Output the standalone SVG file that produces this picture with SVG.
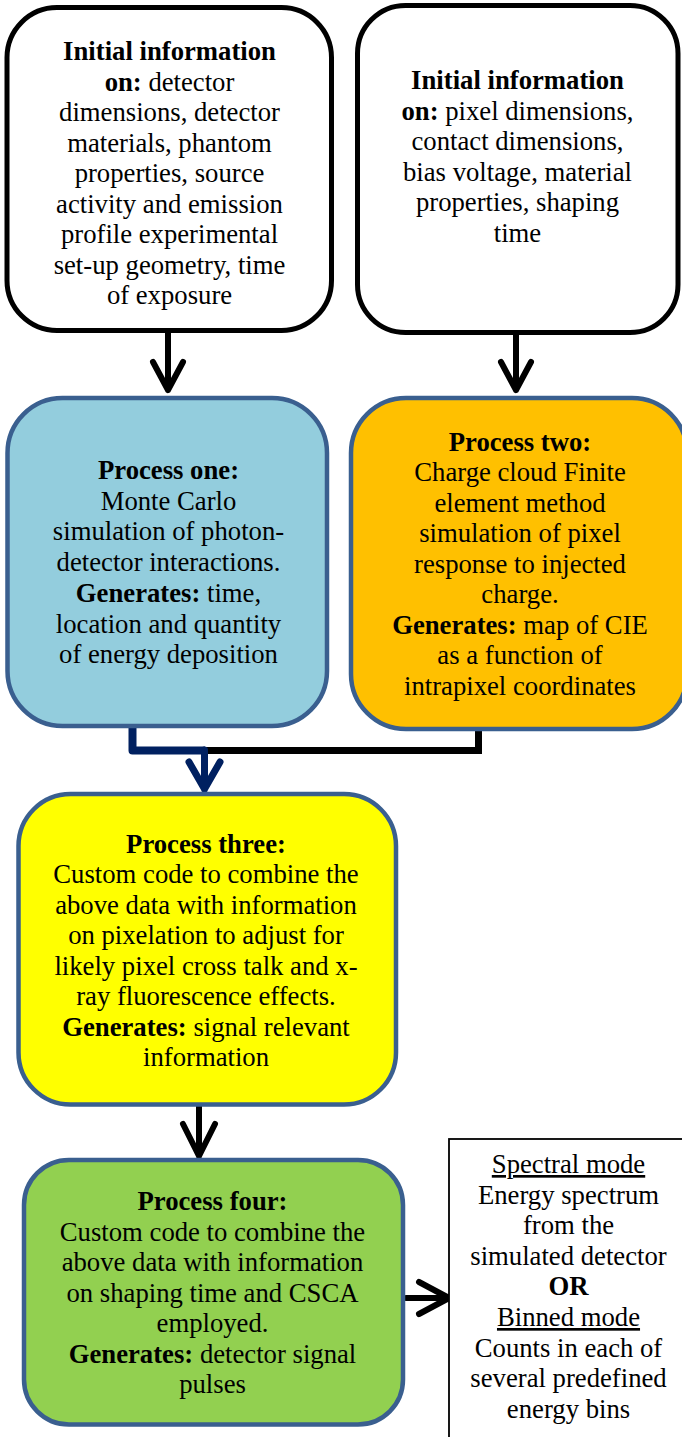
<svg xmlns="http://www.w3.org/2000/svg" width="682" height="1437" viewBox="0 0 682 1437">
<style>
text{font-family:'Liberation Serif','Times New Roman',Times,'DejaVu Serif',serif;font-size:26.7px;fill:#000;text-anchor:middle}
.b{font-weight:bold}
.u{text-decoration:underline}
.blk{fill:#fff;stroke:#000;stroke-width:5}
.pb{stroke:#3A5F8F;stroke-width:4.5}
.ln{fill:none;stroke:#000;stroke-width:6;stroke-linecap:round;stroke-linejoin:round}
.nv{fill:none;stroke:#002060;stroke-width:7;stroke-linecap:round;stroke-linejoin:round}
</style>
<rect width="682" height="1437" fill="#fff"/>
<g id="connectors">
<path class="ln" d="M168,333 V390 M153,362 L168,390 L183,362"/>
<path class="ln" d="M516,335 V390 M501,362 L516,390 L531,362"/>
<path d="M205,750.5 H478.5 V729" fill="none" stroke="#000" stroke-width="7" stroke-linejoin="miter"/>
<path d="M132.5,726 V750.5 H205" fill="none" stroke="#002060" stroke-width="8" stroke-linejoin="round"/>
<path class="nv" d="M204.5,750 V789 M189,762 L204.5,789 L220,762"/>
<path class="ln" d="M199,1105 V1156 M183,1124 L199,1156 L215,1124"/>
<path class="ln" d="M406,1298 H449 M419,1282 L449,1298 L419,1314"/>
</g>
<g id="init1" font-family="Liberation Serif, serif">
<rect class="blk" x="7" y="7.5" width="324.5" height="323" rx="50"/>
<text x="169.5" y="60" class="b">Initial information</text>
<text x="169.5" y="90.5"><tspan class="b">on:</tspan> detector</text>
<text x="169.5" y="121">dimensions, detector</text>
<text x="169.5" y="151.5">materials, phantom</text>
<text x="169.5" y="182">properties, source</text>
<text x="169.5" y="212.5">activity and emission</text>
<text x="169.5" y="243">profile experimental</text>
<text x="169.5" y="273.5">set-up geometry, time</text>
<text x="169.5" y="304">of exposure</text>
</g>
<g id="init2">
<rect class="blk" x="357.5" y="5.5" width="320.5" height="327" rx="48"/>
<text x="517.5" y="89" class="b">Initial information</text>
<text x="517.5" y="119.5"><tspan class="b">on:</tspan> pixel dimensions,</text>
<text x="517.5" y="150">contact dimensions,</text>
<text x="517.5" y="180.5">bias voltage, material</text>
<text x="517.5" y="211">properties, shaping</text>
<text x="517.5" y="241.5">time</text>
</g>
<g id="process1">
<rect class="pb" x="7.5" y="398" width="319.5" height="328" rx="55" fill="#93CDDD"/>
<text x="168.5" y="479" class="b">Process one:</text>
<text x="168.5" y="509.7">Monte Carlo</text>
<text x="168.5" y="540.4">simulation of photon-</text>
<text x="168.5" y="571.1">detector interactions.</text>
<text x="168.5" y="601.8"><tspan class="b">Generates:</tspan> time,</text>
<text x="168.5" y="632.5">location and quantity</text>
<text x="168.5" y="663.2">of energy deposition</text>
</g>
<g id="process2">
<rect class="pb" x="351" y="398" width="336" height="331" rx="55" fill="#FFC000"/>
<text x="520" y="450.7" class="b">Process two:</text>
<text x="520" y="481.2">Charge cloud Finite</text>
<text x="520" y="511.7">element method</text>
<text x="520" y="542.2">simulation of pixel</text>
<text x="520" y="572.7">response to injected</text>
<text x="520" y="603.2">charge.</text>
<text x="520" y="633.7"><tspan class="b">Generates:</tspan> map of CIE</text>
<text x="520" y="664.2">as a function of</text>
<text x="520" y="694.7">intrapixel coordinates</text>
</g>
<g id="process3">
<rect class="pb" x="18.5" y="794" width="377.5" height="310.5" rx="52" fill="#FFFF00"/>
<text x="206" y="852.5" class="b">Process three:</text>
<text x="206" y="883">Custom code to combine the</text>
<text x="206" y="913.5">above data with information</text>
<text x="206" y="944">on pixelation to adjust for</text>
<text x="206" y="974.5">likely pixel cross talk and x-</text>
<text x="206" y="1005">ray fluorescence effects.</text>
<text x="206" y="1035.5"><tspan class="b">Generates:</tspan> signal relevant</text>
<text x="206" y="1066">information</text>
</g>
<g id="process4">
<rect class="pb" x="24" y="1160" width="379" height="264.5" rx="45" fill="#92D050"/>
<text x="212.5" y="1210" class="b">Process four:</text>
<text x="212.5" y="1240.5">Custom code to combine the</text>
<text x="212.5" y="1271">above data with information</text>
<text x="212.5" y="1301.5">on shaping time and CSCA</text>
<text x="212.5" y="1332">employed.</text>
<text x="212.5" y="1362.5"><tspan class="b">Generates:</tspan> detector signal</text>
<text x="212.5" y="1393">pulses</text>
</g>
<g id="output">
<rect x="449" y="1139" width="240" height="310" fill="#fff" stroke="#000" stroke-width="1.8"/>
<text x="568.5" y="1173" class="u">Spectral mode</text>
<text x="568.5" y="1203.6">Energy spectrum</text>
<text x="568.5" y="1234.2">from the</text>
<text x="568.5" y="1264.8">simulated detector</text>
<text x="568.5" y="1295.4" class="b">OR</text>
<text x="568.5" y="1326" class="u">Binned mode</text>
<text x="568.5" y="1356.6">Counts in each of</text>
<text x="568.5" y="1387.2">several predefined</text>
<text x="568.5" y="1417.8">energy bins</text>
</g>
</svg>
